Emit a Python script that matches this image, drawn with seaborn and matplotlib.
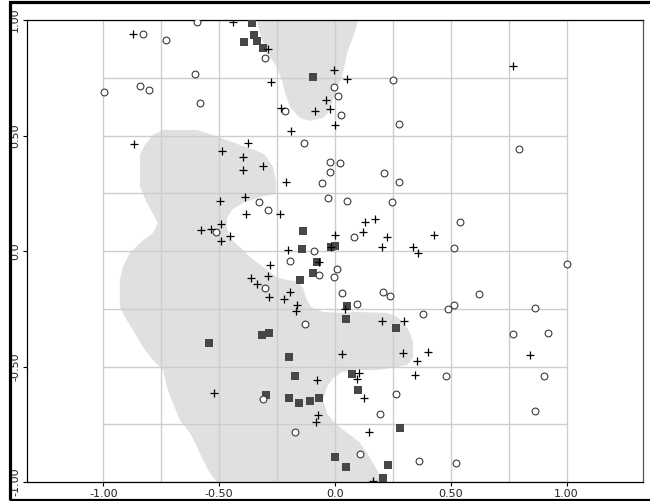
import matplotlib
matplotlib.use("Agg")
import matplotlib.pyplot as plt
import seaborn as sns
from matplotlib.patches import Rectangle

# ---- data ----
plus_x = [-0.873, -0.868, -0.441, -0.289, -0.276, -0.004, 0.052, -0.039, -0.022, -0.086,
          -0.233, 0.000, -0.190, -0.376, -0.488, -0.397, -0.311, -0.397, -0.212, -0.389,
          -0.497, -0.384, -0.238, -0.492, 0.130, 0.173, 0.121, -0.579, -0.536, -0.454,
          -0.492, 0.000, 0.225, -0.203, -0.017, 0.203, 0.337, 0.359, -0.069, -0.281,
          -0.289, -0.363, -0.337, -0.194, -0.285, -0.220, -0.164, -0.168, 0.043, 0.203,
          0.298, 0.030, 0.294, 0.402, 0.354, 0.346, 0.104, 0.095, -0.078, -0.523,
          0.125, -0.073, -0.082, 0.147, 0.164, 0.769, 0.428, 0.842]
plus_y = [0.939, 0.463, 0.991, 0.874, 0.732, 0.784, 0.745, 0.654, 0.615, 0.606,
          0.619, 0.545, 0.519, 0.468, 0.433, 0.407, 0.368, 0.351, 0.299, 0.234,
          0.216, 0.160, 0.160, 0.117, 0.126, 0.139, 0.082, 0.091, 0.095, 0.065,
          0.043, 0.069, 0.061, 0.004, 0.017, 0.017, 0.017, -0.009, -0.048, -0.061,
          -0.108, -0.117, -0.143, -0.177, -0.199, -0.208, -0.234, -0.260, -0.251, -0.303,
          -0.303, -0.446, -0.442, -0.437, -0.476, -0.537, -0.528, -0.554, -0.558, -0.615,
          -0.636, -0.710, -0.740, -0.784, -0.995, 0.801, 0.069, -0.450]

circle_x = [-0.829, -0.730, -0.596, -0.605, -0.998, -0.842, -0.803, -0.583, -0.302, 0.251,
            -0.004, 0.013, -0.216, 0.026, 0.276, -0.134, -0.022, 0.022, -0.022, 0.212,
            0.276, -0.056, -0.328, -0.030, 0.052, 0.246, -0.289, -0.514, 0.082, -0.091,
            -0.194, 0.009, -0.069, -0.004, -0.302, 0.030, 0.207, 0.238, 0.095, 0.380,
            -0.130, -0.311, 0.263, 0.194, -0.173, 0.108, 0.363, 0.795, 0.540, 0.514,
            1.002, 0.622, 0.488, 0.514, 0.864, 0.769, 0.920, 0.479, 0.903, 0.864, 0.523]
circle_y = [0.939, 0.913, 0.991, 0.766, 0.688, 0.714, 0.697, 0.641, 0.835, 0.740,
            0.710, 0.671, 0.606, 0.589, 0.550, 0.468, 0.385, 0.381, 0.342, 0.338,
            0.299, 0.294, 0.212, 0.229, 0.216, 0.212, 0.177, 0.082, 0.061, 0.000,
            -0.043, -0.078, -0.104, -0.113, -0.160, -0.182, -0.177, -0.195, -0.229, -0.273,
            -0.316, -0.641, -0.619, -0.706, -0.784, -0.879, -0.909, 0.442, 0.126, 0.013,
            -0.056, -0.186, -0.251, -0.234, -0.247, -0.359, -0.355, -0.541, -0.541, -0.693, -0.918]

square_x = [-0.359, -0.350, -0.393, -0.337, -0.311, -0.095, -0.138, -0.143, -0.017, 0.000,
            -0.078, -0.095, -0.151, 0.052, 0.048, 0.263, -0.544, -0.315, -0.285, -0.199,
            0.073, -0.173, -0.298, 0.099, -0.199, -0.156, -0.108, -0.069, 0.281, 0.000,
            0.048, 0.229, 0.207]
square_y = [0.985, 0.935, 0.905, 0.909, 0.879, 0.753, 0.087, 0.009, 0.017, 0.022,
            -0.048, -0.095, -0.126, -0.238, -0.294, -0.333, -0.398, -0.364, -0.355, -0.459,
            -0.532, -0.541, -0.623, -0.602, -0.636, -0.658, -0.649, -0.636, -0.766, -0.892,
            -0.935, -0.926, -0.983]

region_main_x = [-0.743, -0.596, -0.540, -0.410, -0.346, -0.302, -0.268, -0.255, -0.255, -0.324,
                 -0.397, -0.441, -0.467, -0.467, -0.454, -0.410, -0.367, -0.311, -0.251, -0.207,
                 -0.164, -0.138, -0.125, -0.104, -0.052, 0.022, 0.095, 0.225, 0.268, 0.298,
                 0.324, 0.337, 0.337, 0.311, 0.268, 0.181, 0.095, 0.030, -0.009, -0.035,
                 -0.052, -0.035, -0.009, 0.035, 0.078, 0.108, 0.138, 0.164, 0.194, 0.207,
                 -0.510, -0.540, -0.570, -0.596, -0.626, -0.670, -0.700, -0.726, -0.743, -0.786,
                 -0.829, -0.873, -0.907, -0.929, -0.929, -0.916, -0.886, -0.842, -0.786, -0.765,
                 -0.778, -0.812, -0.842, -0.842, -0.821, -0.786]
region_main_y = [0.524, 0.524, 0.506, 0.459, 0.437, 0.416, 0.364, 0.307, 0.247, 0.234,
                 0.208, 0.182, 0.143, 0.100, 0.056, 0.017, -0.026, -0.069, -0.113, -0.126,
                 -0.130, -0.160, -0.203, -0.242, -0.264, -0.268, -0.264, -0.268, -0.286, -0.312,
                 -0.355, -0.394, -0.463, -0.494, -0.502, -0.515, -0.515, -0.524, -0.550, -0.589,
                 -0.645, -0.701, -0.736, -0.775, -0.805, -0.831, -0.874, -0.918, -0.970, -1.000,
                 -1.000, -0.961, -0.905, -0.848, -0.788, -0.732, -0.658, -0.589, -0.515, -0.472,
                 -0.416, -0.342, -0.286, -0.242, -0.126, -0.069, -0.009, 0.035, 0.078, 0.121,
                 0.147, 0.208, 0.277, 0.416, 0.459, 0.502]

region_top_x = [-0.337, 0.099, 0.091, 0.078, 0.056, 0.043, 0.030, 0.009, -0.013, -0.030,
                -0.052, -0.108, -0.151, -0.194, -0.216, -0.229, -0.251, -0.294, -0.324]
region_top_y = [1.000, 1.000, 0.965, 0.926, 0.870, 0.814, 0.753, 0.710, 0.641, 0.597,
                0.576, 0.563, 0.576, 0.623, 0.684, 0.740, 0.797, 0.857, 0.944]

x_ticks = [-1.0, -0.5, 0.0, 0.5, 1.0]
x_tick_labels = ["-1.00", "-0.50", "0.0", "0.50", "1.00"]
y_ticks = [-1.0, -0.5, 0.0, 0.5, 1.0]
y_tick_labels = ["-1.00", "-0.50", "0.0", "0.50", "1.00"]
grid_levels = [-1.0, -0.75, -0.5, -0.25, 0.0, 0.25, 0.5, 0.75, 1.0]

# ---- drawing ----
sns.set_style("white")
plt.rcParams["font.family"] = ["DejaVu Sans"]

fig = plt.figure(figsize=(6.5, 5.01), dpi=100)
ax = fig.add_axes([27 / 650, 19 / 501, 616 / 650, 462 / 501])

ax.fill(region_main_x, region_main_y, color="#e0e0e0", lw=0, zorder=0)
ax.fill(region_top_x, region_top_y, color="#e0e0e0", lw=0, zorder=0)

ax.vlines(grid_levels, -1, 1, colors="#cdcdcd", lw=1.0, zorder=1)
ax.hlines(grid_levels, -1, 1, colors="#cdcdcd", lw=1.0, zorder=1)

sns.scatterplot(x=square_x, y=square_y, marker="s", color="#474747", s=30,
                linewidth=0, ax=ax, zorder=3)
sns.scatterplot(x=circle_x, y=circle_y, marker="o", facecolor="white",
                edgecolor="#3a3a3a", s=24, linewidth=0.8, ax=ax, zorder=4)
sns.scatterplot(x=plus_x, y=plus_y, marker="+", color="black", s=38,
                linewidth=0.9, ax=ax, zorder=5)

ax.set_xlim(-1.33, 1.33)
ax.set_ylim(-1.0, 1.0)

for side in ["top", "left", "bottom"]:
    ax.spines[side].set_color("black")
    ax.spines[side].set_linewidth(0.9)
ax.spines["right"].set_color("#555555")
ax.spines["right"].set_linewidth(0.9)

ax.set_xticks(x_ticks)
ax.set_xticklabels(x_tick_labels)
ax.set_yticks(y_ticks)
ax.set_yticklabels(y_tick_labels, rotation=90, va="center")
ax.tick_params(axis="both", which="both", bottom=True, left=True, direction="out",
               length=3, width=0.8, color="black", labelsize=8, labelcolor="#222222",
               pad=2)
ax.set_xlabel("")
ax.set_ylabel("")

frame = Rectangle((9.5 / 650, 1.5 / 501), 1.0, 498 / 501, transform=fig.transFigure,
                  fill=False, edgecolor="black", linewidth=2.3, clip_on=False)
fig.add_artist(frame)

fig.savefig("out.png", dpi=100)
